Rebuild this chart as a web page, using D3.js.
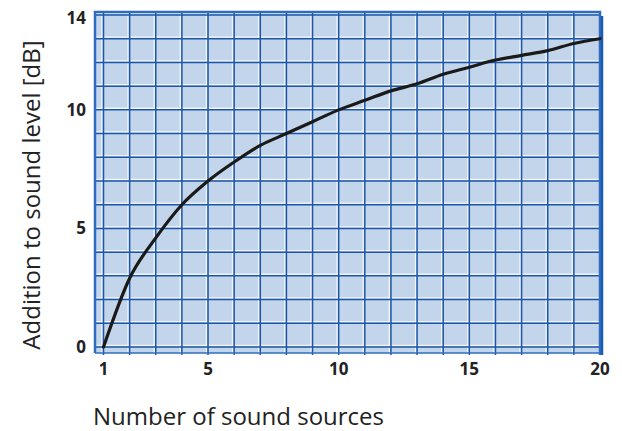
<!DOCTYPE html>
<meta charset="utf-8">
<style>
    body { margin: 0; background: #fff; }
    .tick-label {
        font: bold 17px "Open Sans", "DejaVu Sans", sans-serif;
        fill: #222;
    }
    .axis-title {
        font: 24px "Open Sans", "DejaVu Sans", sans-serif;
        fill: #222;
    }
</style>
<body>
    <svg width="622" height="431"></svg>
</body>
<script src="https://d3js.org/d3.v7.min.js"></script>
<script>
    // number of sources and the dB addition
    var sources = [1, 2, 3, 4, 5, 6, 7, 8, 9, 10, 11, 12, 13, 14, 15, 16, 17, 18, 19, 20];
    var addition = [0, 2.9, 4.6, 6.0, 7.0, 7.8, 8.5, 9.0, 9.5, 10.0, 10.4, 10.8, 11.1, 11.5, 11.8, 12.1, 12.3, 12.5, 12.8, 13.0];
    var xTicks = [1, 5, 10, 15, 20];
    var yTicks = [0, 5, 10, 14];

    var svg = d3.select("svg");

    var x = d3.scaleLinear().domain([1, 20]).range([103.5, 600]);
    var y = d3.scaleLinear().domain([0, 14]).range([347, 15]);

    var blue = "#1b56a8",
        frame = "#2f6cc0",
        white = "#f2f6fb";

    // plot background
    svg.append("rect")
        .attr("x", 94).attr("y", 11)
        .attr("width", 507).attr("height", 342)
        .attr("fill", "#c3d5eb");

    var g = svg.append("g");

    // grid: every unit in both directions, white highlight next to a blue line
    var gx = d3.range(1, 20);
    var gy = d3.range(0, 15);

    g.selectAll(".vw").data(gx).enter().append("line")
        .attr("x1", function (d) { return x(d) - 1.6; })
        .attr("x2", function (d) { return x(d) - 1.6; })
        .attr("y1", 13).attr("y2", 355)
        .attr("stroke", white).attr("stroke-width", 1.3);
    g.selectAll(".hw").data(gy).enter().append("line")
        .attr("y1", function (d) { return y(d) - 1.6; })
        .attr("y2", function (d) { return y(d) - 1.6; })
        .attr("x1", 95).attr("x2", 601)
        .attr("stroke", white).attr("stroke-width", 1.3);

    g.selectAll(".vb").data(gx).enter().append("line")
        .attr("x1", function (d) { return x(d); })
        .attr("x2", function (d) { return x(d); })
        .attr("y1", 13).attr("y2", 355)
        .attr("stroke", blue).attr("stroke-width", 1.5);
    g.selectAll(".hb").data(gy).enter().append("line")
        .attr("y1", function (d) { return y(d); })
        .attr("y2", function (d) { return y(d); })
        .attr("x1", 95).attr("x2", 601)
        .attr("stroke", blue).attr("stroke-width", 1.5);

    // bottom double rule
    svg.append("line")
        .attr("x1", 95).attr("x2", 603).attr("y1", 353).attr("y2", 353)
        .attr("stroke", frame).attr("stroke-width", 1.5);

    // frame: left, top, right
    svg.append("path")
        .attr("d", "M95,353 V12 H600 V355")
        .attr("fill", "none")
        .attr("stroke", frame)
        .attr("stroke-width", 2.5);
    svg.append("line")
        .attr("x1", 602).attr("x2", 602).attr("y1", 16).attr("y2", 355)
        .attr("stroke", "#1b5ab0").attr("stroke-width", 2.5);

    // curve
    var line = d3.line()
        .x(function (d, i) { return x(sources[i]); })
        .y(function (d) { return y(d); })
        .curve(d3.curveMonotoneX);

    svg.append("path")
        .datum(addition)
        .attr("d", line)
        .attr("fill", "none")
        .attr("stroke", "#1a1a1a")
        .attr("stroke-width", 3.2)
        .attr("stroke-linecap", "round");

    // tick labels
    svg.selectAll(".xt").data(xTicks).enter().append("text")
        .attr("class", "tick-label")
        .attr("x", function (d) { return x(d); })
        .attr("y", 375)
        .attr("text-anchor", "middle")
        .text(function (d) { return d; });

    svg.selectAll(".yt").data(yTicks).enter().append("text")
        .attr("class", "tick-label")
        .attr("x", 86)
        .attr("y", function (d) { return d == 14 ? y(d) + 9 : y(d) + 6; })
        .attr("text-anchor", "end")
        .text(function (d) { return d; });

    // axis titles
    svg.append("text")
        .attr("class", "axis-title")
        .attr("x", 93)
        .attr("y", 425)
        .text("Number of sound sources");

    svg.append("text")
        .attr("class", "axis-title")
        .attr("transform", "translate(40,195) rotate(-90)")
        .attr("text-anchor", "middle")
        .text("Addition to sound level [dB]");
</script>
